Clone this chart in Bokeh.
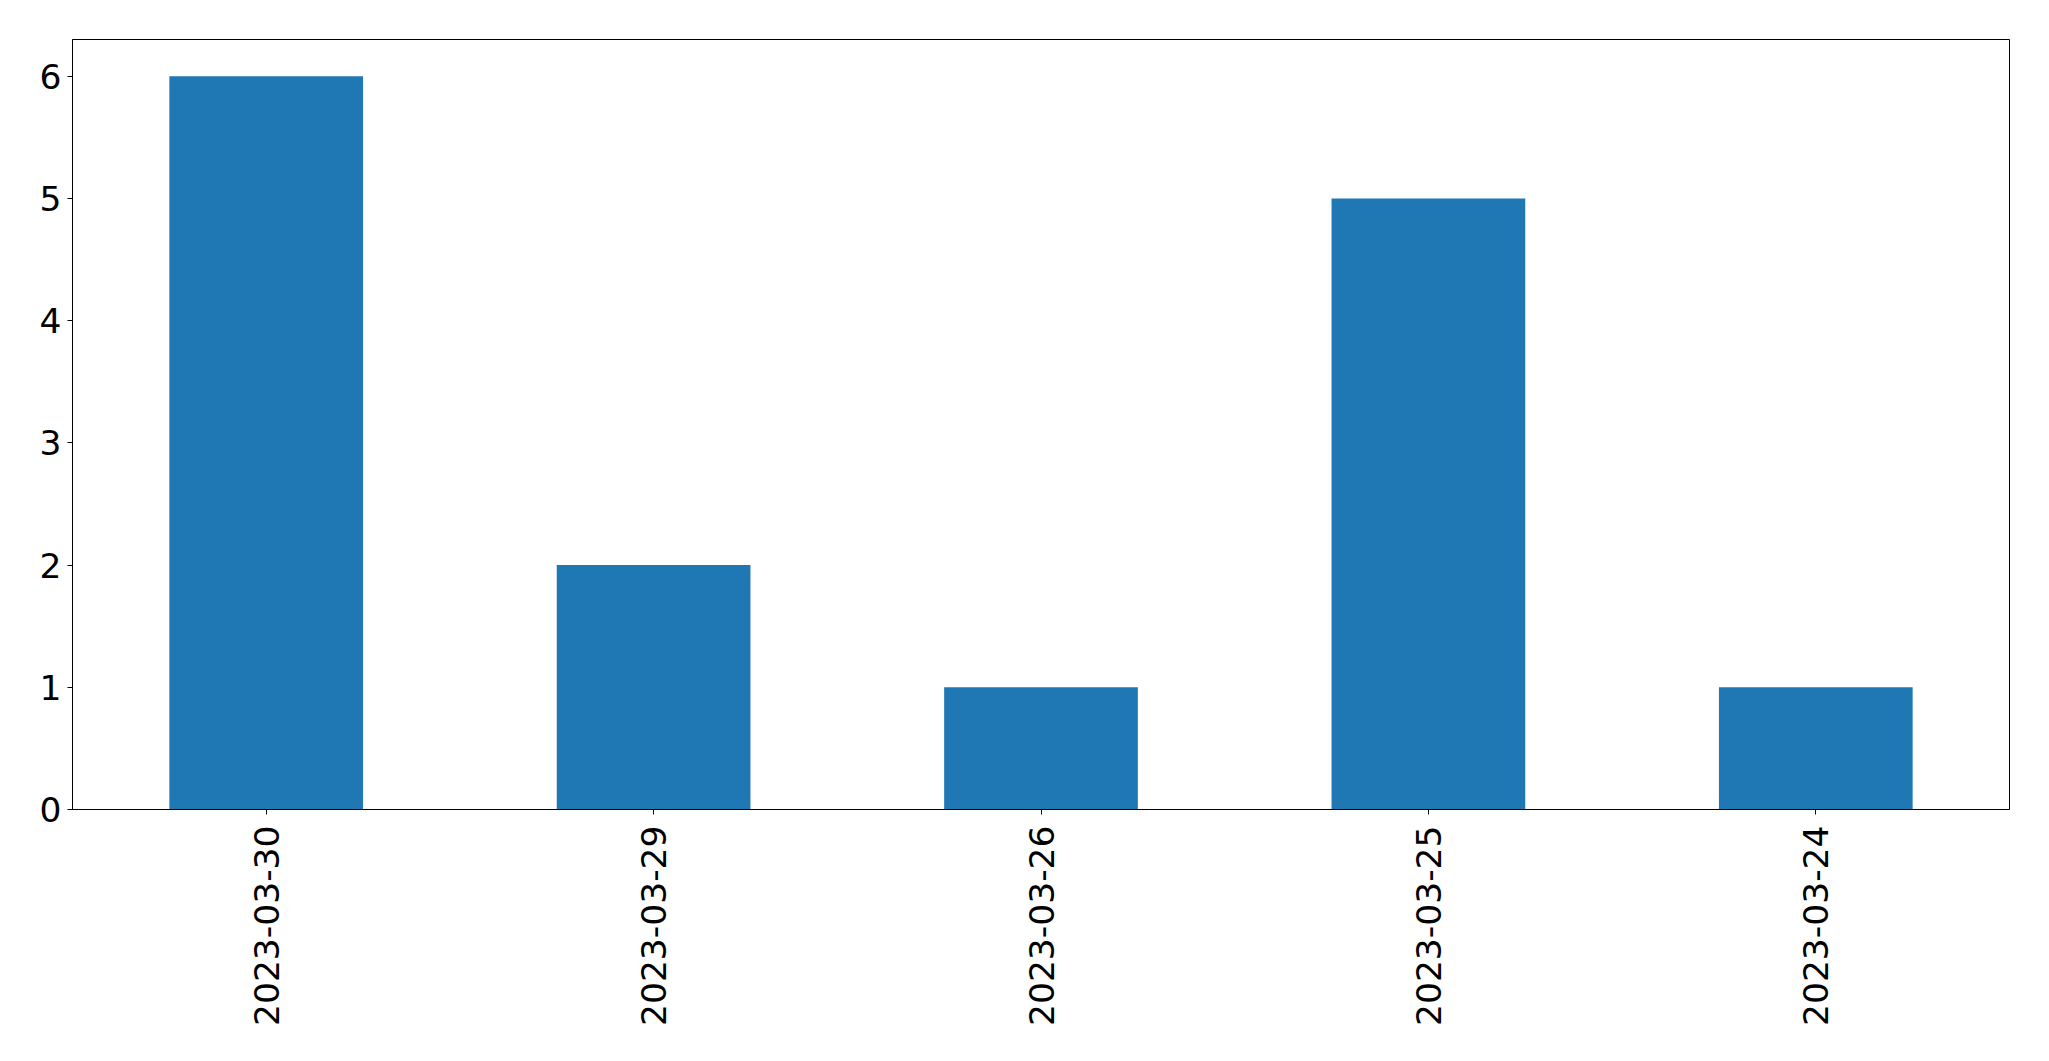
from bokeh.plotting import figure
from bokeh.models import FactorRange, Range1d, FixedTicker, ColumnDataSource
from bokeh.embed import file_html
from bokeh.resources import INLINE
import math

dates = ["2023-03-30", "2023-03-29", "2023-03-26", "2023-03-25", "2023-03-24"]
counts = [6, 2, 1, 5, 1]
y_ticks = [0, 1, 2, 3, 4, 5, 6]

source = ColumnDataSource(data=dict(dates=dates, counts=counts))

p = figure(
    x_range=FactorRange(factors=dates, range_padding=0),
    y_range=Range1d(0, 6.3),
    width=2033, height=1045,
    output_backend="svg", toolbar_location=None,
    min_border_left=72, min_border_top=39, min_border_right=24, min_border_bottom=236,
)

p.vbar(x="dates", top="counts", width=0.5, source=source,
       fill_color="#1f77b4", line_color=None)

p.outline_line_color = "black"
p.outline_line_width = 1
p.xgrid.visible = False
p.ygrid.visible = False
p.background_fill_color = "white"
p.border_fill_color = "white"

for ax in (p.xaxis[0], p.yaxis[0]):
    ax.axis_line_color = "black"
    ax.major_tick_line_color = "black"
    ax.major_tick_out = 5
    ax.major_tick_in = 0
    ax.minor_tick_line_color = None
    ax.major_label_text_font = "DejaVu Sans"
    ax.major_label_text_font_size = "34.5px"
    ax.major_label_text_color = "black"

p.yaxis.ticker = FixedTicker(ticks=y_ticks)
p.yaxis.major_label_standoff = 6
p.xaxis.major_label_orientation = math.pi / 2
p.xaxis.major_label_standoff = 11

open("out.html", "w").write(file_html(p, INLINE))
